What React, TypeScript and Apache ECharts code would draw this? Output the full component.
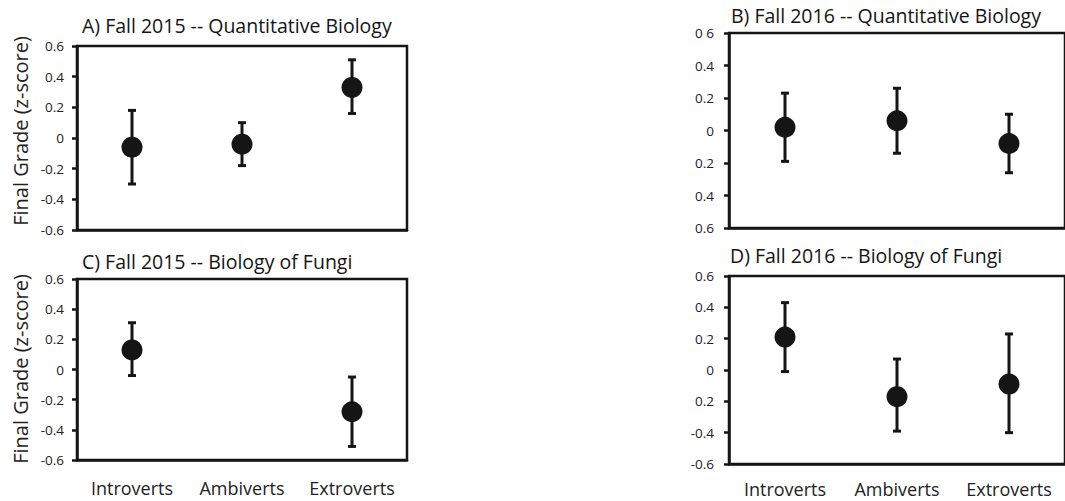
import React, { useEffect, useRef } from "react";
import * as echarts from "echarts";

const categories = ["Introverts", "Ambiverts", "Extroverts"];

const meanA = [-0.06, -0.04, 0.33];
const lowA = [-0.3, -0.18, 0.16];
const highA = [0.18, 0.1, 0.51];

const meanB = [0.02, 0.06, -0.08];
const lowB = [-0.19, -0.14, -0.26];
const highB = [0.23, 0.26, 0.1];

const meanC = [0.13, null, -0.28];
const lowC = [-0.04, null, -0.51];
const highC = [0.31, null, -0.05];

const meanD = [0.21, -0.17, -0.09];
const lowD = [-0.01, -0.39, -0.4];
const highD = [0.43, 0.07, 0.23];

// tick labels listed bottom to top (-0.6 .. 0.6)
const ticksAC = ["-0.6", "-0.4", "-0.2", "0", "0.2", "0.4", "0.6"];
const ticksB = ["0.6", "0.4", "0.2", "0", "0.2", "0.4", "0 6"];
const ticksD = ["-0.6", "-0.4", "0.2", "0", "0.2", "0.4", "0.6"];

const titles = [
  "A) Fall 2015 -- Quantitative Biology",
  "B) Fall 2016 -- Quantitative Biology",
  "C) Fall 2015 -- Biology of Fungi",
  "D) Fall 2016 -- Biology of Fungi",
];
const yName = "Final Grade (z-score)";

const FONT = "'Open Sans', 'Noto Sans', sans-serif";
const INK = "#151515";

export default function App() {
  const ref = useRef<HTMLDivElement>(null);
  useEffect(() => {
    if (!ref.current) return;
    const chart = echarts.init(ref.current, null, { renderer: "svg" });

    const grids = [
      { left: 77, top: 46, width: 330, height: 184 },
      { left: 729, top: 33, width: 341, height: 195 },
      { left: 77, top: 279, width: 330, height: 181 },
      { left: 729, top: 276, width: 341, height: 188 },
    ];
    const tickSets = [ticksAC, ticksB, ticksAC, ticksD];
    const showX = [false, false, true, true];
    const xMargin = [0, 0, 19, 16];
    const yMargin = [13, 15, 13, 15];
    const means = [meanA, meanB, meanC, meanD];
    const lows = [lowA, lowB, lowC, lowD];
    const highs = [highA, highB, highC, highD];

    const titlePos = [
      { x: 82, y: 25 },
      { x: 731, y: 15 },
      { x: 82, y: 261 },
      { x: 730, y: 255 },
    ];
    const namePos = [
      { x: 20, y: 131 },
      { x: 20, y: 369 },
    ];

    const series: any[] = [];
    for (let g = 0; g < 4; g++) {
      const ebData: any[] = [];
      const ptData: any[] = [];
      for (let i = 0; i < categories.length; i++) {
        if (means[g][i] === null) continue;
        ebData.push([i, lows[g][i], highs[g][i]]);
        ptData.push([i, means[g][i]]);
      }
      series.push({
        type: "custom",
        xAxisIndex: g,
        yAxisIndex: g,
        data: ebData,
        encode: { x: 0, y: [1, 2] },
        z: 2,
        renderItem: (params: any, api: any) => {
          const lo = api.coord([api.value(0), api.value(1)]);
          const hi = api.coord([api.value(0), api.value(2)]);
          const cap = 4;
          const st = { stroke: INK, lineWidth: 3 };
          return {
            type: "group",
            children: [
              { type: "line", shape: { x1: lo[0], y1: lo[1], x2: hi[0], y2: hi[1] }, style: st },
              { type: "line", shape: { x1: lo[0] - cap, y1: lo[1], x2: lo[0] + cap, y2: lo[1] }, style: st },
              { type: "line", shape: { x1: hi[0] - cap, y1: hi[1], x2: hi[0] + cap, y2: hi[1] }, style: st },
            ],
          };
        },
      });
      series.push({
        type: "scatter",
        xAxisIndex: g,
        yAxisIndex: g,
        data: ptData,
        symbol: "circle",
        symbolSize: 21,
        itemStyle: { color: INK, opacity: 1 },
        z: 3,
      });
    }

    const graphics: any[] = [];
    titles.forEach((t, i) => {
      graphics.push({
        type: "text",
        x: titlePos[i].x,
        y: titlePos[i].y,
        style: {
          text: t,
          font: `19.5px ${FONT}`,
          fill: INK,
          textAlign: "left",
          textVerticalAlign: "middle",
        },
      });
    });
    namePos.forEach((p) => {
      graphics.push({
        type: "text",
        x: p.x,
        y: p.y,
        rotation: Math.PI / 2,
        style: {
          text: yName,
          font: `20px ${FONT}`,
          fill: "#222",
          textAlign: "center",
          textVerticalAlign: "middle",
        },
      });
    });

    chart.setOption({
      animation: false,
      backgroundColor: "#ffffff",
      graphic: graphics,
      grid: grids.map((g) => ({
        ...g,
        show: true,
        borderColor: INK,
        borderWidth: 2.5,
        backgroundColor: "transparent",
      })),
      xAxis: grids.map((_, i) => ({
        type: "category",
        gridIndex: i,
        data: categories,
        boundaryGap: true,
        axisLine: { show: true, onZero: false, lineStyle: { color: INK, width: 2.5 } },
        axisTick: { show: false },
        splitLine: { show: false },
        axisLabel: {
          show: showX[i],
          interval: 0,
          hideOverlap: false,
          margin: xMargin[i],
          fontFamily: FONT,
          fontSize: 18,
          color: "#222",
        },
      })),
      yAxis: grids.map((_, i) => ({
        type: "value",
        gridIndex: i,
        min: -0.6,
        max: 0.6,
        interval: 0.2,
        axisLine: { show: true, onZero: false, lineStyle: { color: INK, width: 2.5 } },
        axisTick: { show: true, inside: false, length: 5, lineStyle: { color: INK, width: 2.5 } },
        splitLine: { show: false },
        axisLabel: {
          margin: yMargin[i],
          fontFamily: FONT,
          fontSize: 13.5,
          color: "#222",
          formatter: (v: number) => {
            const idx = Math.round((v + 0.6) / 0.2);
            return tickSets[i][idx] ?? "";
          },
        },
      })),
      series,
    });

    return () => chart.dispose();
  }, []);

  return (
    <div
      ref={ref}
      style={{ position: "absolute", left: 0, top: 0, width: 1065, height: 501, overflow: "hidden" }}
    />
  );
}
